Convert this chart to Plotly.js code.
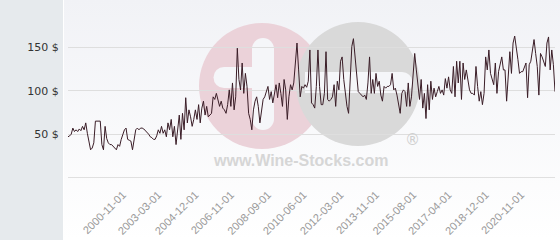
<!DOCTYPE html>
<html>
<head>
<meta charset="utf-8">
<script src="https://cdn.plot.ly/plotly-3.0.1.min.js"></script>
<style>html,body{margin:0;padding:0;background:#e6eaed;}#chart{width:560px;height:240px;}</style>
</head>
<body>
<div id="chart"></div>
<script>
// Price series (USD), oldest to newest
const prices = [
  47,48,50,57,53,55,53,56,54,59,55,63,51,42,32,34,40,65,65,65,65,38,32,59,45,40,38,38,36,34,32,38,36,44,50,55,57,44,43,42,32,45,55,57,55,57,57,
  56,54,53,50,47,46,44,44,48,55,51,59,51,55,47,63,55,67,47,59,38,55,72,44,74,55,92,63,78,70,59,67,78,67,84,63,80,88,72,82,70,72,74,93,90,97,90,82,88,80,
  78,74,84,101,82,109,78,93,149,113,101,132,97,120,105,74,67,55,78,88,93,82,63,78,90,93,99,105,90,99,86,95,107,92,109,97,82,113,101,67,93,107,101,109,132,155,124,93,105,103,107,
  104,111,147,86,84,80,105,147,105,84,84,97,145,90,88,90,93,107,82,111,101,134,139,113,95,82,74,120,151,160,139,120,99,97,95,93,95,90,109,139,97,113,97,120,105,111,95,88,105,103,105,
  105,107,120,101,103,95,86,74,97,101,99,82,109,82,93,120,143,124,103,90,113,80,97,68,107,78,111,90,103,93,99,105,97,101,95,114,103,116,101,97,128,93,134,109,134,90,132,113,124,109,101,97,
  97,95,128,105,88,99,84,97,139,124,147,120,114,107,132,97,122,132,139,124,124,88,124,145,120,155,163,151,136,120,122,122,126,132,92,130,134,147,159,143,128,95,143,139,132,128,155,162,124,147,130,99
];
// Date tick labels and the observation they fall on
const tickLabels = ['2000-11-01','2003-03-01','2004-12-01','2006-11-01','2008-09-01','2010-06-01','2012-03-01','2013-11-01','2015-08-01','2017-04-01','2018-12-01','2020-11-01'];
const tickIndex = [34,56,79,101,124,146,169,191,214,236,259,281];
const yTickValues = [0,50,100,150];
const yTickLabels = ['','50 $','100 $','150 $'];

const idx = prices.map((_, i) => i);

// pixel -> paper helpers for decoration
const L = 68, R = 5, T = 30, B = 62, W = 560, H = 240;
const pw = W - L - R, ph = H - T - B;
const X = p => (p - L) / pw;
const Y = p => (H - B - p) / ph;

const grad = 'data:image/svg+xml;utf8,' + encodeURIComponent(
  '<svg xmlns="http://www.w3.org/2000/svg" width="100" height="100" preserveAspectRatio="none">' +
  '<defs><linearGradient id="g" x1="0" y1="0" x2="0" y2="1">' +
  '<stop offset="0" stop-color="#f1f2f6"/><stop offset="1" stop-color="#ffffff"/></linearGradient></defs>' +
  '<rect width="100" height="100" fill="url(#g)"/></svg>');

function circ(cx, cy, r, color) {
  return {type:'circle', xref:'paper', yref:'paper', layer:'below',
    x0:X(cx-r), x1:X(cx+r), y0:Y(cy+r), y1:Y(cy-r), fillcolor:color, line:{width:0}};
}
function rect(x0, y0, x1, y1, color) {
  return {type:'rect', xref:'paper', yref:'paper', layer:'below',
    x0:X(x0), x1:X(x1), y0:Y(y1), y1:Y(y0), fillcolor:color, line:{width:0}};
}
const pink = '#ebd2d9', grey = '#d9d9d9', bgw = '#f5f6f9';

const shapes = [
  {type:'line', xref:'paper', yref:'paper', layer:'below', x0:X(63.5), x1:X(63.5), y0:Y(240), y1:Y(0), line:{color:'#ffffff', width:1}},
  circ(262, 86, 63, pink),
  circ(358, 84, 62, grey),
  rect(252, 49, 274, 119, bgw),
  circ(263, 49, 11, bgw),
  circ(263, 119, 11, bgw),
  rect(224, 67, 272, 88, bgw),
  circ(224, 77.5, 10.5, bgw),
  rect(305, 72, 402, 93, bgw),
  circ(402, 82.5, 10.5, bgw),
  {type:'line', xref:'paper', yref:'y', layer:'below', x0:0, x1:1, y0:0, y1:0, line:{color:'#dedede', width:1}}
];

const trace = {
  x: idx, y: prices, type:'scatter', mode:'lines',
  line:{color:'#3a1d27', width:1}, hoverinfo:'skip'
};

const layout = {
  width:W, height:H,
  margin:{l:L, r:R, t:T, b:B, pad:0},
  paper_bgcolor:'#e6eaed', plot_bgcolor:'rgba(0,0,0,0)',
  showlegend:false,
  images:[{source:grad, xref:'paper', yref:'paper', x:X(64), y:Y(0), sizex:(W-64)/pw, sizey:H/ph,
    xanchor:'left', yanchor:'top', sizing:'stretch', layer:'below'}],
  shapes: shapes,
  annotations:[
    {text:'www.Wine-Stocks.com', xref:'paper', yref:'paper', x:X(300), y:Y(160), xanchor:'center', yanchor:'middle', showarrow:false,
     font:{family:'Liberation Sans, Arial', size:16, color:'#d6d6d6', weight:'bold'}},
    {text:'®', xref:'paper', yref:'paper', x:X(412), y:Y(140), xanchor:'center', yanchor:'middle', showarrow:false,
     font:{family:'DejaVu Sans', size:15, color:'#cfcfcf'}}
  ],
  xaxis:{range:[0, prices.length-1], tickmode:'array', tickvals:tickIndex, ticktext:tickLabels,
    tickangle:-45, showgrid:false, zeroline:false, showline:false,
    ticks:'outside', ticklen:5, tickcolor:'rgba(0,0,0,0)',
    tickfont:{family:'Liberation Sans, Arial', size:11, color:'#999999'}},
  yaxis:{range:[-0.5,170], tickmode:'array', tickvals:yTickValues, ticktext:yTickLabels,
    showgrid:true, gridcolor:'#dedede', gridwidth:1, zeroline:false, showline:false,
    ticks:'outside', ticklen:6, tickcolor:'rgba(0,0,0,0)',
    tickfont:{family:'DejaVu Sans', size:11, color:'#333333'}}
};

Plotly.newPlot('chart', [trace], layout, {staticPlot:true, displayModeBar:false});
</script>
</body>
</html>
